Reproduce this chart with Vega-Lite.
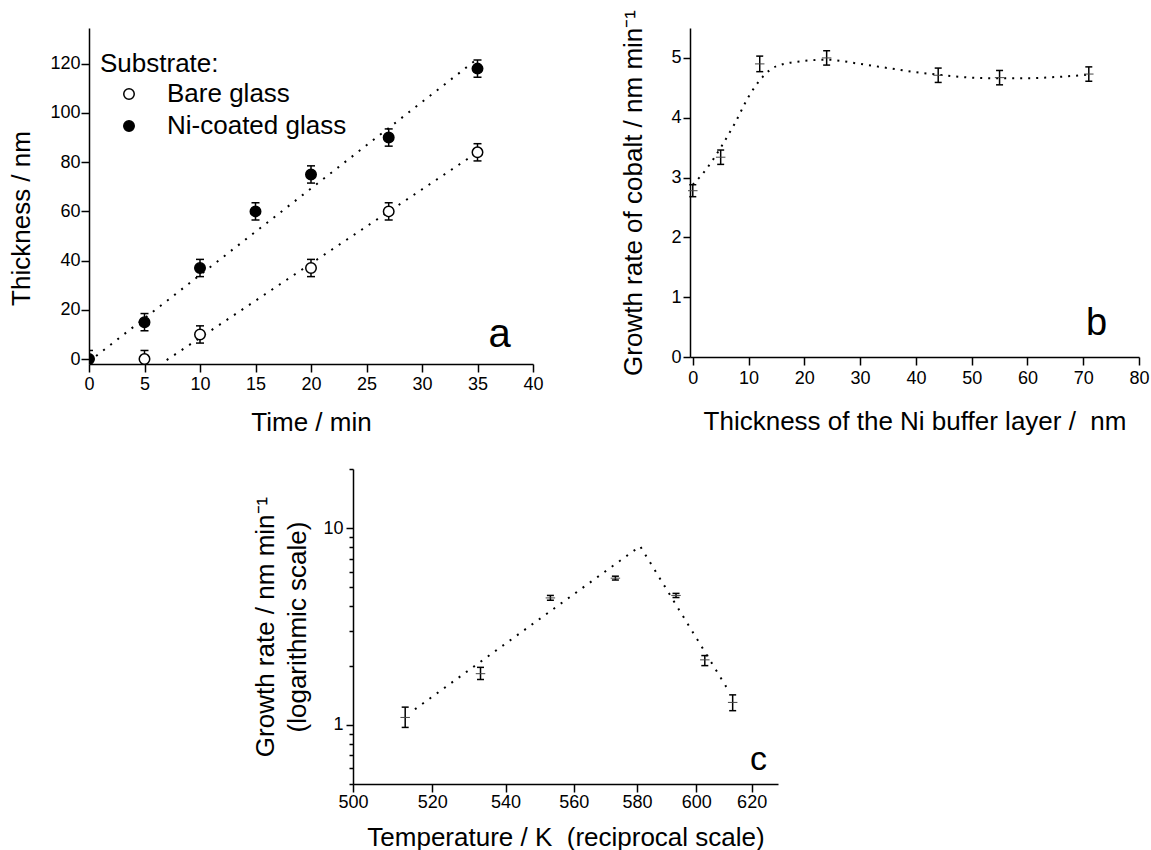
{
  "$schema": "https://vega.github.io/schema/vega-lite/v6.json",
  "padding": {"left": 8, "top": 9, "right": 0, "bottom": 0},
  "background": "white",
  "config": {
    "view": {"stroke": null},
    "font": "Liberation Sans",
    "axis": {"domainColor": "black", "domainWidth": 1.5, "tickColor": "black", "tickWidth": 1.5, "labelColor": "black", "titleColor": "black", "labelFontSize": 18, "titleFontSize": 26, "titleFontWeight": "normal", "grid": false, "labelFlush": false, "labelOverlap": false, "labelFont": "Liberation Sans", "titleFont": "Liberation Sans"}
  },
  "datasets": {
    "a_pts": [
      {"t": 5, "v": 0, "lo": -3.5, "hi": 3.5, "s": "Bare glass"},
      {"t": 10, "v": 10, "lo": 6.5, "hi": 13.5, "s": "Bare glass"},
      {"t": 20, "v": 37, "lo": 33.5, "hi": 40.5, "s": "Bare glass"},
      {"t": 27, "v": 60, "lo": 56.5, "hi": 63.5, "s": "Bare glass"},
      {"t": 35, "v": 84, "lo": 80.5, "hi": 87.5, "s": "Bare glass"},
      {"t": 0, "v": 0, "lo": -3.5, "hi": 3.5, "s": "Ni-coated glass"},
      {"t": 5, "v": 15, "lo": 11.5, "hi": 18.5, "s": "Ni-coated glass"},
      {"t": 10, "v": 37, "lo": 33.5, "hi": 40.5, "s": "Ni-coated glass"},
      {"t": 15, "v": 60, "lo": 56.5, "hi": 63.5, "s": "Ni-coated glass"},
      {"t": 20, "v": 75, "lo": 71.5, "hi": 78.5, "s": "Ni-coated glass"},
      {"t": 27, "v": 90, "lo": 86.5, "hi": 93.5, "s": "Ni-coated glass"},
      {"t": 35, "v": 118, "lo": 114.5, "hi": 121.5, "s": "Ni-coated glass"}
    ],
    "a_fit": [
      {"t": 0, "v": -1, "s": "Ni-coated glass"},
      {"t": 35, "v": 122, "s": "Ni-coated glass"},
      {"t": 7, "v": -0.4, "s": "Bare glass"},
      {"t": 35, "v": 84, "s": "Bare glass"}
    ],
    "a_lab": [{"t": 37, "v": 4.9, "label": "a"}],
    "b_pts": [
      {"d": 0, "r": 2.78, "lo": 2.68, "hi": 2.88},
      {"d": 5, "r": 3.34, "lo": 3.22, "hi": 3.46},
      {"d": 12, "r": 4.9, "lo": 4.77, "hi": 5.03},
      {"d": 24, "r": 5.0, "lo": 4.88, "hi": 5.12},
      {"d": 44, "r": 4.71, "lo": 4.59, "hi": 4.83},
      {"d": 55, "r": 4.67, "lo": 4.55, "hi": 4.79},
      {"d": 71, "r": 4.73, "lo": 4.61, "hi": 4.85}
    ],
    "b_fit": [
      {"d": 0, "r": 2.88}, {"d": 2.5, "r": 3.15}, {"d": 5, "r": 3.5}, {"d": 7.5, "r": 3.9},
      {"d": 10, "r": 4.35}, {"d": 12.5, "r": 4.68}, {"d": 15, "r": 4.86}, {"d": 20, "r": 4.95},
      {"d": 24, "r": 4.97}, {"d": 30, "r": 4.9}, {"d": 35, "r": 4.83}, {"d": 40, "r": 4.76},
      {"d": 44, "r": 4.72}, {"d": 50, "r": 4.67}, {"d": 55, "r": 4.66}, {"d": 60, "r": 4.66},
      {"d": 65, "r": 4.68}, {"d": 71, "r": 4.72}
    ],
    "b_lab": [{"d": 72.4, "r": 0.37, "label": "b"}],
    "c_pts": [
      {"T": 513, "g": 1.09, "lo": 0.97, "hi": 1.23},
      {"T": 533, "g": 1.82, "lo": 1.7, "hi": 1.96},
      {"T": 553, "g": 4.42, "lo": 4.3, "hi": 4.55},
      {"T": 573, "g": 5.57, "lo": 5.45, "hi": 5.7},
      {"T": 593, "g": 4.55, "lo": 4.44, "hi": 4.66},
      {"T": 603, "g": 2.14, "lo": 2.0, "hi": 2.25},
      {"T": 613, "g": 1.3, "lo": 1.18, "hi": 1.42}
    ],
    "c_fit": [
      {"T": 515.5, "g": 1.2},
      {"T": 581, "g": 8.1},
      {"T": 610.8, "g": 1.55}
    ],
    "c_lab": [{"T": 622.6, "g": 0.586, "label": "c"}]
  },
  "bounds": "full",
  "spacing": 25,
  "vconcat": [
    {
      "bounds": "flush",
      "spacing": 157,
      "hconcat": [
        {
          "width": 444,
          "height": 336,
          "layer": [
            {
              "data": {"name": "a_fit"},
              "mark": {"type": "line", "color": "black", "strokeWidth": 2, "strokeDash": [2, 7], "clip": true},
              "encoding": {
                "x": {"field": "t", "type": "quantitative", "title": "Time / min",
                  "scale": {"domain": [0, 40], "nice": false, "zero": false},
                  "axis": {"values": [0, 2.5, 5, 7.5, 10, 12.5, 15, 17.5, 20, 22.5, 25, 27.5, 30, 32.5, 35, 37.5, 40],
                    "labelExpr": "datum.value % 5 === 0 ? format(datum.value, 'd') : ''",
                    "tickSize": {"condition": {"test": "datum.value % 5 === 0", "value": 8}, "value": 4},
                    "labelPadding": 3, "titlePadding": 16}},
                "y": {"field": "v", "type": "quantitative", "title": "Thickness / nm",
                  "scale": {"domain": [-2, 134.5], "nice": false, "zero": false},
                  "axis": {"values": [0, 10, 20, 30, 40, 50, 60, 70, 80, 90, 100, 110, 120, 130],
                    "labelExpr": "datum.value % 20 === 0 ? format(datum.value, 'd') : ''",
                    "tickSize": {"condition": {"test": "datum.value % 20 === 0", "value": 8}, "value": 4},
                    "labelPadding": 1, "titlePadding": 15, "titleY": 190}},
                "detail": {"field": "s"}
              }
            },
            {
              "data": {"name": "a_pts"},
              "mark": {"type": "rule", "color": "black", "strokeWidth": 1.5, "clip": true},
              "encoding": {
                "x": {"field": "t", "type": "quantitative", "title": "Time / min"},
                "y": {"field": "lo", "type": "quantitative", "title": "Thickness / nm"},
                "y2": {"field": "hi"}
              }
            },
            {
              "data": {"name": "a_pts"},
              "mark": {"type": "tick", "orient": "horizontal", "color": "black", "size": 8, "thickness": 1.5, "opacity": 1, "clip": true},
              "encoding": {
                "x": {"field": "t", "type": "quantitative", "title": "Time / min"},
                "y": {"field": "lo", "type": "quantitative", "title": "Thickness / nm"}
              }
            },
            {
              "data": {"name": "a_pts"},
              "mark": {"type": "tick", "orient": "horizontal", "color": "black", "size": 8, "thickness": 1.5, "opacity": 1, "clip": true},
              "encoding": {
                "x": {"field": "t", "type": "quantitative", "title": "Time / min"},
                "y": {"field": "hi", "type": "quantitative", "title": "Thickness / nm"}
              }
            },
            {
              "data": {"name": "a_pts"},
              "mark": {"type": "point", "shape": "circle", "filled": true, "size": 110, "stroke": "black", "strokeWidth": 1.5, "opacity": 1, "clip": true},
              "encoding": {
                "x": {"field": "t", "type": "quantitative", "title": "Time / min"},
                "y": {"field": "v", "type": "quantitative", "title": "Thickness / nm"},
                "fill": {"field": "s", "type": "nominal",
                  "scale": {"domain": ["Bare glass", "Ni-coated glass"], "range": ["white", "black"]},
                  "legend": {"orient": "none", "legendX": 11, "legendY": 23, "title": "Substrate:",
                    "titleFontSize": 26, "titleFontWeight": "normal", "titleColor": "black", "titleFont": "Liberation Sans",
                    "labelFontSize": 26, "labelColor": "black", "labelFont": "Liberation Sans", "labelLimit": 0,
                    "symbolType": "circle", "symbolSize": 110, "symbolStrokeColor": "black", "symbolStrokeWidth": 1.5,
                    "symbolOffset": 16, "labelOffset": 25, "rowPadding": 6, "titlePadding": 4, "padding": 0}}
              }
            },
            {
              "data": {"name": "a_lab"},
              "mark": {"type": "text", "fontSize": 40, "align": "center", "baseline": "alphabetic", "color": "black"},
              "encoding": {
                "x": {"field": "t", "type": "quantitative", "title": "Time / min"},
                "y": {"field": "v", "type": "quantitative", "title": "Thickness / nm"},
                "text": {"field": "label"}
              }
            }
          ]
        },
        {
          "width": 449,
          "height": 329,
          "layer": [
            {
              "data": {"name": "b_fit"},
              "mark": {"type": "line", "color": "black", "strokeWidth": 2, "strokeDash": [2, 6], "interpolate": "monotone"},
              "encoding": {
                "x": {"field": "d", "type": "quantitative", "title": "Thickness of the Ni buffer layer / \u00a0nm",
                  "scale": {"domain": [-0.5, 80], "nice": false, "zero": false},
                  "axis": {"values": [0, 5, 10, 15, 20, 25, 30, 35, 40, 45, 50, 55, 60, 65, 70, 75, 80],
                    "labelExpr": "datum.value % 10 === 0 ? format(datum.value, 'd') : ''",
                    "tickSize": {"condition": {"test": "datum.value % 10 === 0", "value": 8}, "value": 4},
                    "labelPadding": 4, "titlePadding": 21}},
                "y": {"field": "r", "type": "quantitative", "title": "Growth rate of cobalt / nm min⁻¹",
                  "scale": {"domain": [0, 5.5], "nice": false, "zero": false},
                  "axis": {"values": [0, 0.5, 1, 1.5, 2, 2.5, 3, 3.5, 4, 4.5, 5, 5.5],
                    "labelExpr": "datum.value % 1 === 0 ? format(datum.value, 'd') : ''",
                    "tickSize": {"condition": {"test": "datum.value % 1 === 0", "value": 7}, "value": 4},
                    "labelPadding": 2, "titlePadding": 24}}
              }
            },
            {
              "data": {"name": "b_pts"},
              "mark": {"type": "rule", "color": "black", "strokeWidth": 1.5},
              "encoding": {
                "x": {"field": "d", "type": "quantitative", "title": "Thickness of the Ni buffer layer / \u00a0nm"},
                "y": {"field": "lo", "type": "quantitative", "title": "Growth rate of cobalt / nm min⁻¹"},
                "y2": {"field": "hi"}
              }
            },
            {
              "data": {"name": "b_pts"},
              "mark": {"type": "tick", "orient": "horizontal", "color": "black", "size": 7, "thickness": 1.5, "opacity": 1},
              "encoding": {
                "x": {"field": "d", "type": "quantitative", "title": "Thickness of the Ni buffer layer / \u00a0nm"},
                "y": {"field": "lo", "type": "quantitative", "title": "Growth rate of cobalt / nm min⁻¹"}
              }
            },
            {
              "data": {"name": "b_pts"},
              "mark": {"type": "tick", "orient": "horizontal", "color": "black", "size": 7, "thickness": 1.5, "opacity": 1},
              "encoding": {
                "x": {"field": "d", "type": "quantitative", "title": "Thickness of the Ni buffer layer / \u00a0nm"},
                "y": {"field": "hi", "type": "quantitative", "title": "Growth rate of cobalt / nm min⁻¹"}
              }
            },
            {
              "data": {"name": "b_pts"},
              "mark": {"type": "point", "shape": "M-1,0L1,0", "filled": false, "size": 90, "stroke": "#444444", "strokeWidth": 1, "opacity": 1},
              "encoding": {
                "x": {"field": "d", "type": "quantitative", "title": "Thickness of the Ni buffer layer / \u00a0nm"},
                "y": {"field": "r", "type": "quantitative", "title": "Growth rate of cobalt / nm min⁻¹"}
              }
            },
            {
              "data": {"name": "b_lab"},
              "mark": {"type": "text", "fontSize": 38, "align": "center", "baseline": "alphabetic", "color": "black"},
              "encoding": {
                "x": {"field": "d", "type": "quantitative", "title": "Thickness of the Ni buffer layer / \u00a0nm"},
                "y": {"field": "r", "type": "quantitative", "title": "Growth rate of cobalt / nm min⁻¹"},
                "text": {"field": "label"}
              }
            }
          ]
        }
      ]
    },
    {
      "bounds": "flush",
      "spacing": 0,
      "hconcat": [
        {
          "width": 264,
          "height": 10,
          "data": {"values": [{"k": 1}]},
          "mark": {"type": "point", "opacity": 0},
          "encoding": {}
        },
        {
          "width": 425,
          "height": 315,
          "layer": [
            {
              "data": {"name": "c_fit"},
              "mark": {"type": "line", "color": "black", "strokeWidth": 2, "strokeDash": [2, 7]},
              "encoding": {
                "x": {"field": "T", "type": "quantitative", "title": "Temperature / K \u00a0(reciprocal scale)",
                  "scale": {"type": "pow", "exponent": -1, "domain": [500, 630], "nice": false, "zero": false},
                  "axis": {"values": [500, 510, 520, 530, 540, 550, 560, 570, 580, 590, 600, 610, 620, 630],
                    "labelExpr": "datum.value % 20 === 0 ? format(datum.value, 'd') : ''",
                    "tickSize": {"condition": {"test": "datum.value % 20 === 0", "value": 8}, "value": 4},
                    "labelPadding": 1, "titlePadding": 13}},
                "y": {"field": "g", "type": "quantitative", "title": ["Growth rate / nm min⁻¹", "(logarithmic scale)"],
                  "scale": {"type": "log", "domain": [0.5, 20], "nice": false},
                  "axis": {"values": [0.5, 0.6, 0.7, 0.8, 0.9, 1, 2, 3, 4, 5, 6, 7, 8, 9, 10, 20],
                    "labelExpr": "(datum.value === 1 || datum.value === 10) ? format(datum.value, 'd') : ''",
                    "tickSize": {"condition": {"test": "datum.value === 1 || datum.value === 10", "value": 7}, "value": 4},
                    "labelPadding": 3, "titlePadding": 12, "titleLineHeight": 32}}
              }
            },
            {
              "data": {"name": "c_pts"},
              "mark": {"type": "rule", "color": "black", "strokeWidth": 1.5},
              "encoding": {
                "x": {"field": "T", "type": "quantitative", "title": "Temperature / K \u00a0(reciprocal scale)"},
                "y": {"field": "lo", "type": "quantitative", "title": ["Growth rate / nm min⁻¹", "(logarithmic scale)"]},
                "y2": {"field": "hi"}
              }
            },
            {
              "data": {"name": "c_pts"},
              "mark": {"type": "tick", "orient": "horizontal", "color": "black", "size": 7, "thickness": 1.5, "opacity": 1},
              "encoding": {
                "x": {"field": "T", "type": "quantitative", "title": "Temperature / K \u00a0(reciprocal scale)"},
                "y": {"field": "lo", "type": "quantitative", "title": ["Growth rate / nm min⁻¹", "(logarithmic scale)"]}
              }
            },
            {
              "data": {"name": "c_pts"},
              "mark": {"type": "tick", "orient": "horizontal", "color": "black", "size": 7, "thickness": 1.5, "opacity": 1},
              "encoding": {
                "x": {"field": "T", "type": "quantitative", "title": "Temperature / K \u00a0(reciprocal scale)"},
                "y": {"field": "hi", "type": "quantitative", "title": ["Growth rate / nm min⁻¹", "(logarithmic scale)"]}
              }
            },
            {
              "data": {"name": "c_pts"},
              "mark": {"type": "point", "shape": "M-1,0L1,0", "filled": false, "size": 90, "stroke": "#444444", "strokeWidth": 1, "opacity": 1},
              "encoding": {
                "x": {"field": "T", "type": "quantitative", "title": "Temperature / K \u00a0(reciprocal scale)"},
                "y": {"field": "g", "type": "quantitative", "title": ["Growth rate / nm min⁻¹", "(logarithmic scale)"]}
              }
            },
            {
              "data": {"name": "c_lab"},
              "mark": {"type": "text", "fontSize": 34, "align": "center", "baseline": "alphabetic", "color": "black"},
              "encoding": {
                "x": {"field": "T", "type": "quantitative", "title": "Temperature / K \u00a0(reciprocal scale)"},
                "y": {"field": "g", "type": "quantitative", "title": ["Growth rate / nm min⁻¹", "(logarithmic scale)"]},
                "text": {"field": "label"}
              }
            }
          ]
        }
      ]
    }
  ]
}
